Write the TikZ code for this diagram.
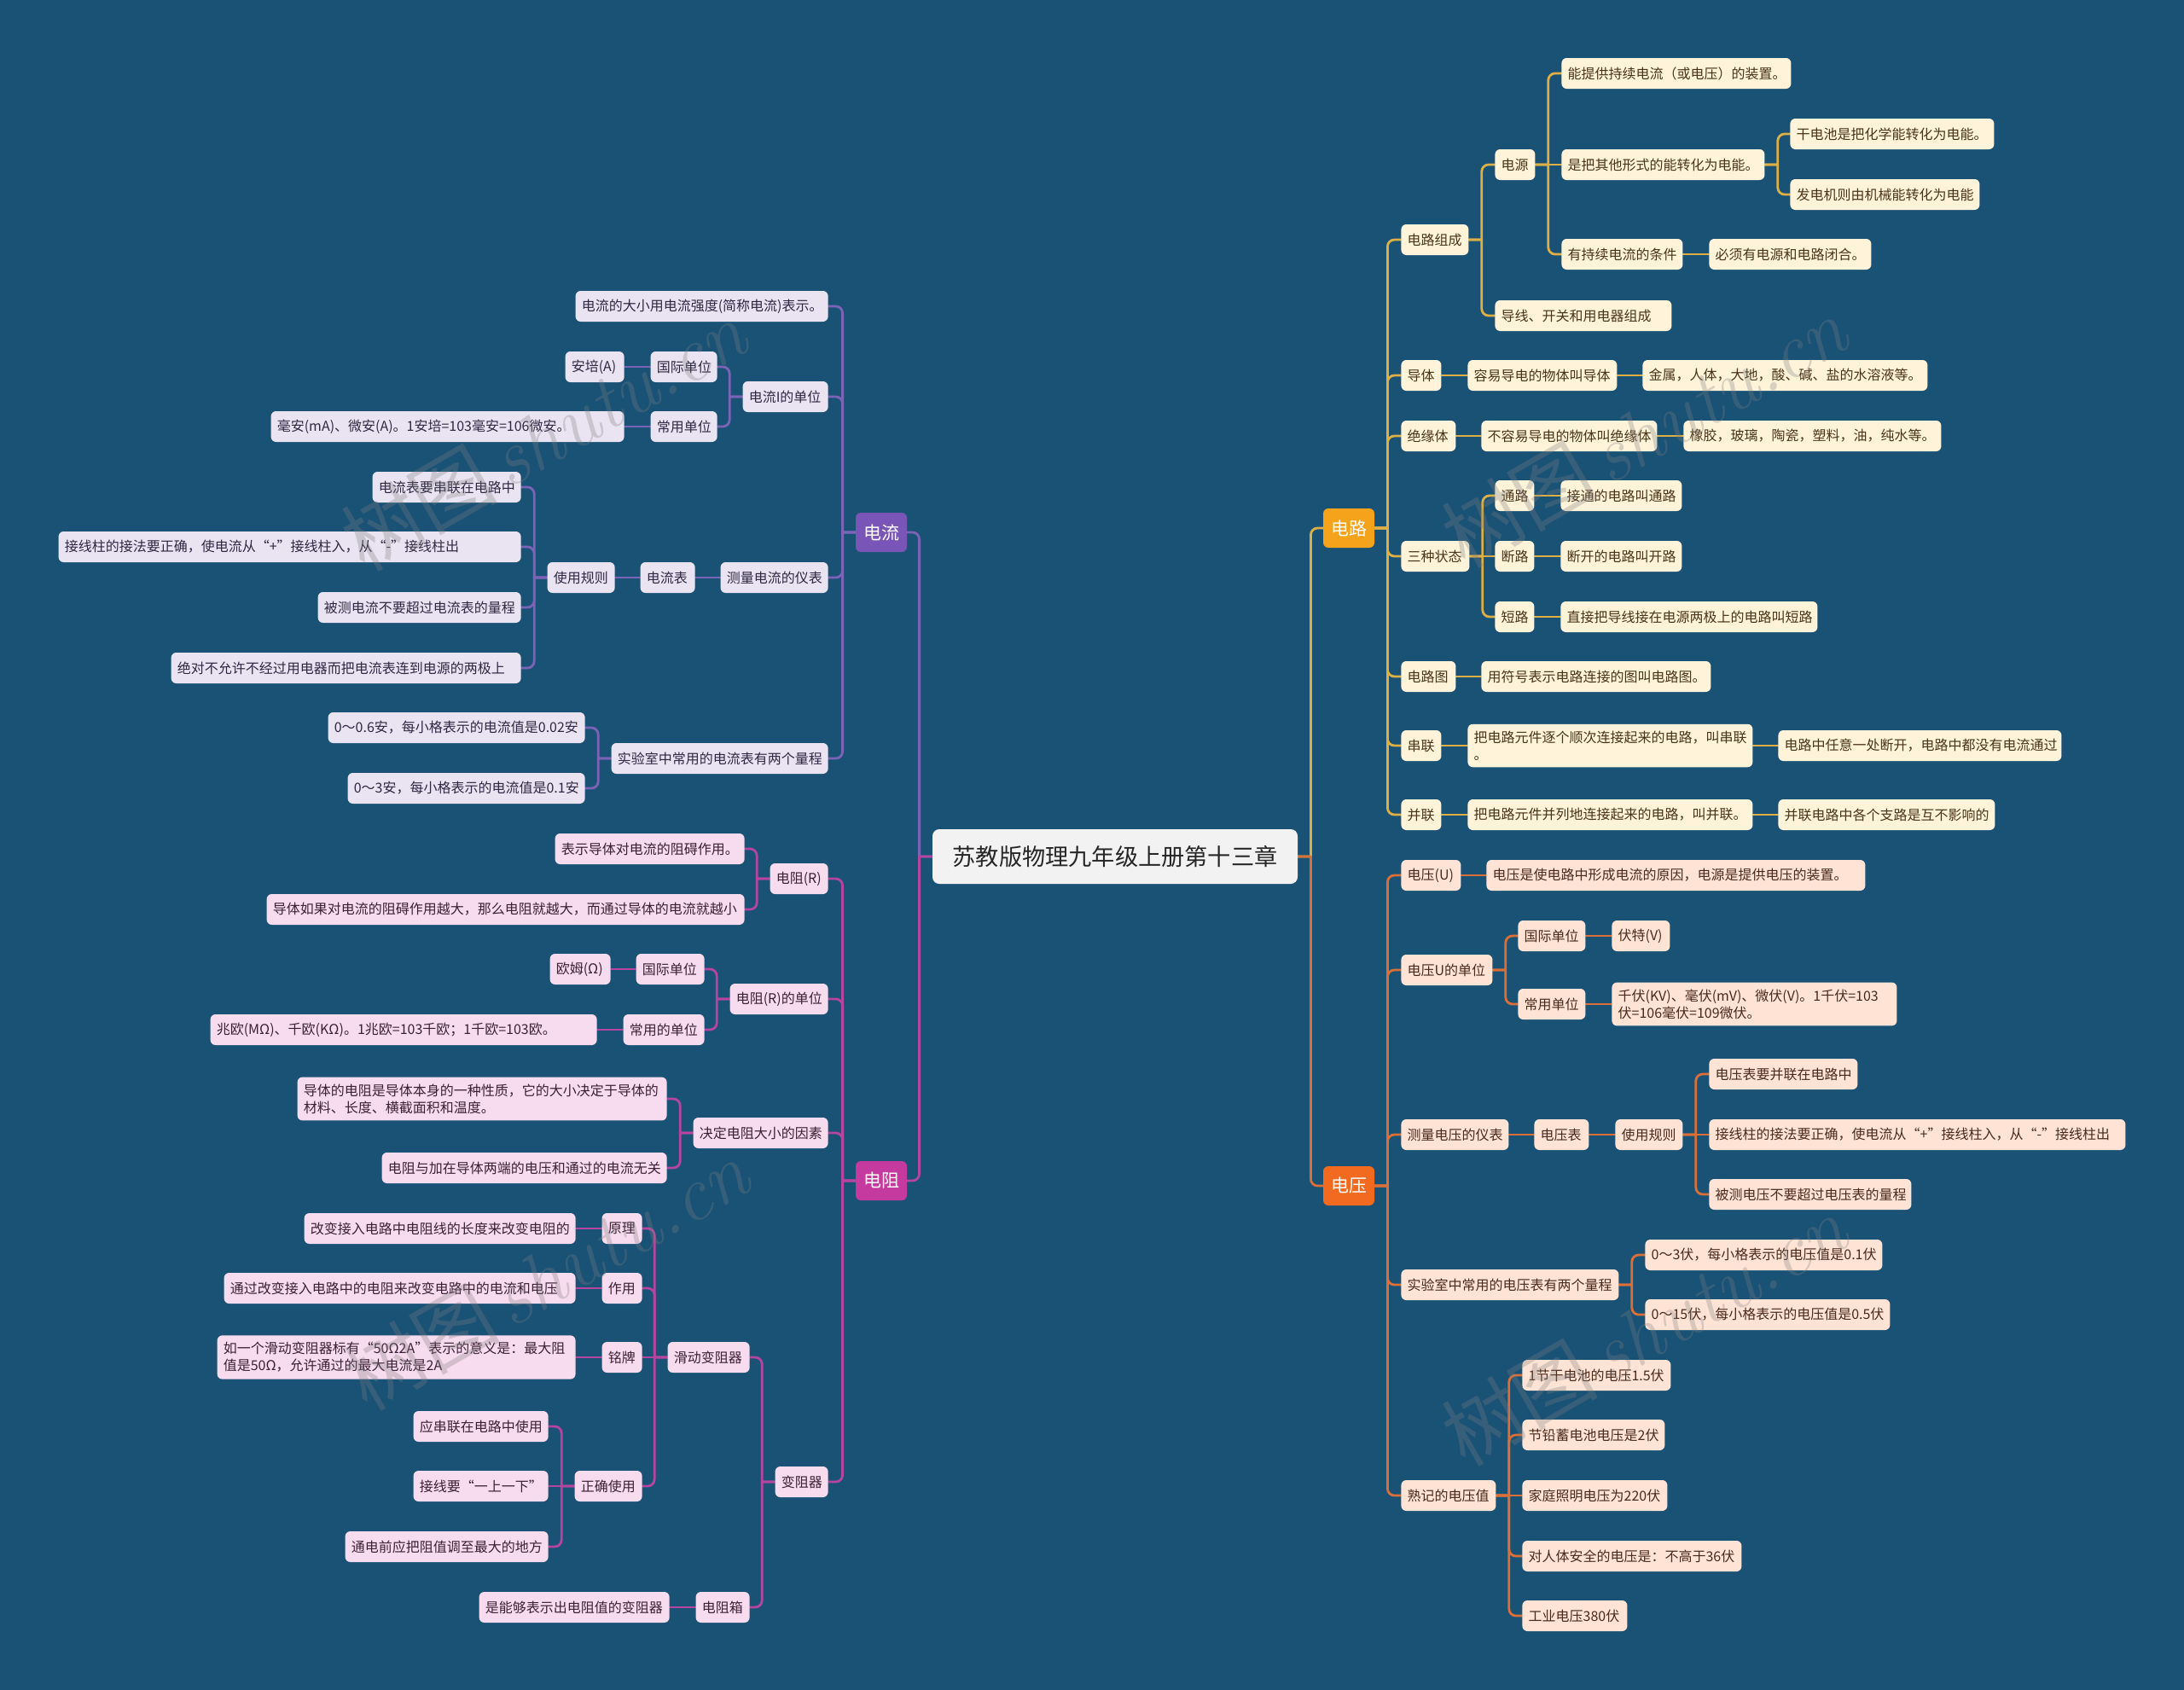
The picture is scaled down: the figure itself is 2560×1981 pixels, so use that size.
\documentclass[tikz,border=0pt]{standalone}
\usepackage{fontspec}
\newfontfamily\cjk{Noto Sans CJK SC}
\usetikzlibrary{calc}
\definecolor{bgc}{HTML}{1A5276}
\definecolor{ylmain}{HTML}{F5A31A}
\definecolor{ylline}{HTML}{DDAF45}
\definecolor{ylfill}{HTML}{FFF3DA}
\definecolor{yltext}{HTML}{4A3418}
\definecolor{ormain}{HTML}{F26A1F}
\definecolor{orline}{HTML}{DB6F38}
\definecolor{orfill}{HTML}{FFE3D5}
\definecolor{ortext}{HTML}{4A2A1A}
\definecolor{pumain}{HTML}{7A55B8}
\definecolor{puline}{HTML}{7B63B6}
\definecolor{pufill}{HTML}{E9E3F2}
\definecolor{putext}{HTML}{2E2842}
\definecolor{mamain}{HTML}{C43A9F}
\definecolor{maline}{HTML}{B5459F}
\definecolor{mafill}{HTML}{F7DBEE}
\definecolor{matext}{HTML}{3B2036}
\definecolor{rootfill}{HTML}{F2F2F2}
\pgfdeclarelayer{back}\pgfdeclarelayer{lines}
\pgfsetlayers{back,lines,main}
\tikzset{
 nbox/.style={rounded corners=3pt, inner xsep=3.6pt, inner ysep=4pt, minimum height=18pt, font=\cjk\fontsize{8}{10}\selectfont, align=left},
 yc/.style={nbox, fill=ylfill, text=yltext},
 oc/.style={nbox, fill=orfill, text=ortext},
 pc/.style={nbox, fill=pufill, text=putext},
 mc/.style={nbox, fill=mafill, text=matext},
 bmain/.style={rounded corners=3pt, minimum width=30pt, minimum height=23pt, inner sep=2pt, font=\cjk\fontsize{10.5}{12}\selectfont, text=white},
 rootbox/.style={rounded corners=4pt, fill=rootfill, text=black!85, minimum width=214pt, minimum height=32pt, font=\cjk\fontsize{13.6}{16}\selectfont},
 lnk/.style={line width=1.4pt, rounded corners=4pt, line cap=round},
 rt/.style={to path={(\tikztostart) -- ($(\tikztostart)+(15,0)$) ($(\tikztostart)+(15,0)$) |- (\tikztotarget)}},
 lt/.style={to path={(\tikztostart) -- ($(\tikztostart)+(-15,0)$) ($(\tikztostart)+(-15,0)$) |- (\tikztotarget)}},
 wmk/.style={text=gray, text opacity=0.3, font=\fontsize{46}{50}\selectfont, rotate=30},
}
\newcommand\boxR[6]{\pgfmathsetmacro\nw{(#4-#3)*0.5-7.2}\node[#1,anchor=west,text width=\nw pt] (#2) at (#3,#5) {#6};}
\newcommand\boxL[6]{\pgfmathsetmacro\nw{(#4-#3)*0.5-7.2}\node[#1,anchor=east,text width=\nw pt] (#2) at (#4,#5) {#6};}
\newcommand\linkR[3]{\foreach \cc in {#3}{\draw[lnk,#1] (#2.east) to[rt] (\cc.west);}}
\newcommand\linkL[3]{\foreach \cc in {#3}{\draw[lnk,#1] (#2.west) to[lt] (\cc.east);}}
\newcommand\flatR[3]{\draw[lnk,#1] (#2.east) -- (#3.west);}
\newcommand\flatL[3]{\draw[lnk,#1] (#2.west) -- (#3.east);}
\begin{document}
\begin{tikzpicture}[x=0.5pt,y=-0.5pt]
\useasboundingbox (0,0) rectangle (2560,1981);
\begin{pgfonlayer}{back}
\fill[bgc] (0,0) rectangle (2560,1981);
\end{pgfonlayer}

% root and main branches
\node[rootbox] (root) at (1307,1004) {苏教版物理九年级上册第十三章};
\node[bmain, fill=ylmain] (dl) at (1581,619) {电路};
\node[bmain, fill=ormain] (dy) at (1581,1390) {电压};
\node[bmain, fill=pumain] (dc) at (1033,624) {电流};
\node[bmain, fill=mamain] (dr) at (1033,1384) {电阻};

% 电路
\boxR{yc}{r1}{1642}{1721}{281}{电路组成}
\boxR{yc}{r11}{1752}{1799}{193}{电源}
\boxR{yc}{r111}{1830}{2099}{86}{能提供持续电流（或电压）的装置。}
\boxR{yc}{r112}{1830}{2068}{193}{是把其他形式的能转化为电能。}
\boxR{yc}{r1121}{2098}{2337}{157}{干电池是把化学能转化为电能。}
\boxR{yc}{r1122}{2098}{2320}{228}{发电机则由机械能转化为电能}
\boxR{yc}{r113}{1830}{1972}{298}{有持续电流的条件}
\boxR{yc}{r1131}{2003}{2193}{298}{必须有电源和电路闭合。}
\boxR{yc}{r12}{1752}{1959}{370}{导线、开关和用电器组成}
\boxR{yc}{r2}{1642}{1689}{440}{导体}
\boxR{yc}{r21}{1720}{1895}{440}{容易导电的物体叫导体}
\boxR{yc}{r211}{1925}{2259}{440}{金属，人体，大地，酸、碱、盐的水溶液等。}
\boxR{yc}{r3}{1642}{1706}{511}{绝缘体}
\boxR{yc}{r31}{1736}{1942}{511}{不容易导电的物体叫绝缘体}
\boxR{yc}{r311}{1973}{2275}{511}{橡胶，玻璃，陶瓷，塑料，油，纯水等。}
\boxR{yc}{r4}{1642}{1722}{652}{三种状态}
\boxR{yc}{r41}{1752}{1798}{581}{通路}
\boxR{yc}{r411}{1829}{1971}{581}{接通的电路叫通路}
\boxR{yc}{r42}{1752}{1798}{652}{断路}
\boxR{yc}{r421}{1829}{1971}{652}{断开的电路叫开路}
\boxR{yc}{r43}{1752}{1798}{723}{短路}
\boxR{yc}{r431}{1829}{2130}{723}{直接把导线接在电源两极上的电路叫短路}
\boxR{yc}{r5}{1642}{1706}{793}{电路图}
\boxR{yc}{r51}{1736}{2005}{793}{用符号表示电路连接的图叫电路图。}
\boxR{yc}{r6}{1642}{1689}{874}{串联}
\boxR{yc}{r61}{1720}{2054}{874}{把电路元件逐个顺次连接起来的电路，叫串联\\。}
\boxR{yc}{r611}{2084}{2416}{874}{电路中任意一处断开，电路中都没有电流通过}
\boxR{yc}{r7}{1642}{1689}{955}{并联}
\boxR{yc}{r71}{1720}{2054}{955}{把电路元件并列地连接起来的电路，叫并联。}
\boxR{yc}{r711}{2084}{2338}{955}{并联电路中各个支路是互不影响的}

% 电压
\boxR{oc}{v1}{1642}{1712}{1026}{电压(U)}
\boxR{oc}{v11}{1742}{2186}{1026}{电压是使电路中形成电流的原因，电源是提供电压的装置。}
\boxR{oc}{v2}{1642}{1749}{1137}{电压U的单位}
\boxR{oc}{v21}{1779}{1858}{1097}{国际单位}
\boxR{oc}{v211}{1889}{1957}{1097}{伏特(V)}
\boxR{oc}{v22}{1779}{1858}{1177}{常用单位}
\boxR{oc}{v221}{1889}{2223}{1177}{千伏(KV)、毫伏(mV)、微伏(V)。1千伏=103\\伏=106毫伏=109微伏。}
\boxR{oc}{v3}{1642}{1768}{1330}{测量电压的仪表}
\boxR{oc}{v31}{1798}{1862}{1330}{电压表}
\boxR{oc}{v32}{1893}{1972}{1330}{使用规则}
\boxR{oc}{v321}{2003}{2177}{1259}{电压表要并联在电路中}
\boxR{oc}{v322}{2003}{2491}{1330}{接线柱的接法要正确，使电流从“+”接线柱入，从“-”接线柱出}
\boxR{oc}{v323}{2003}{2240}{1400}{被测电压不要超过电压表的量程}
\boxR{oc}{v4}{1642}{1897}{1506}{实验室中常用的电压表有两个量程}
\boxR{oc}{v41}{1928}{2206}{1471}{0～3伏，每小格表示的电压值是0.1伏}
\boxR{oc}{v42}{1928}{2215}{1541}{0～15伏，每小格表示的电压值是0.5伏}
\boxR{oc}{v5}{1642}{1753}{1753}{熟记的电压值}
\boxR{oc}{v51}{1784}{1958}{1612}{1节干电池的电压1.5伏}
\boxR{oc}{v52}{1784}{1951}{1682}{节铅蓄电池电压是2伏}
\boxR{oc}{v53}{1784}{1954}{1753}{家庭照明电压为220伏}
\boxR{oc}{v54}{1784}{2041}{1824}{对人体安全的电压是：不高于36伏}
\boxR{oc}{v55}{1784}{1907}{1894}{工业电压380伏}

% 电流
\boxL{pc}{l1}{675}{971}{359}{电流的大小用电流强度(简称电流)表示。}
\boxL{pc}{l2}{871}{971}{465}{电流I的单位}
\boxL{pc}{l21}{763}{841}{430}{国际单位}
\boxL{pc}{l211}{663}{732}{430}{安培(A)}
\boxL{pc}{l22}{763}{841}{500}{常用单位}
\boxL{pc}{l221}{318}{732}{500}{毫安(mA)、微安(A)。1安培=103毫安=106微安。}
\boxL{pc}{l3}{845}{971}{677}{测量电流的仪表}
\boxL{pc}{l31}{751}{815}{677}{电流表}
\boxL{pc}{l32}{642}{721}{677}{使用规则}
\boxL{pc}{l321}{437}{611}{571}{电流表要串联在电路中}
\boxL{pc}{l322}{69}{611}{641}{接线柱的接法要正确，使电流从“+”接线柱入，从“-”接线柱出}
\boxL{pc}{l323}{373}{611}{712}{被测电流不要超过电流表的量程}
\boxL{pc}{l324}{201}{611}{783}{绝对不允许不经过用电器而把电流表连到电源的两极上}
\boxL{pc}{l4}{717}{971}{889}{实验室中常用的电流表有两个量程}
\boxL{pc}{l41}{385}{686}{853}{0～0.6安，每小格表示的电流值是0.02安}
\boxL{pc}{l42}{408}{686}{924}{0～3安，每小格表示的电流值是0.1安}

% 电阻
\boxL{mc}{m1}{903}{971}{1030}{电阻(R)}
\boxL{mc}{m11}{651}{873}{995}{表示导体对电流的阻碍作用。}
\boxL{mc}{m12}{313}{873}{1066}{导体如果对电流的阻碍作用越大，那么电阻就越大，而通过导体的电流就越小}
\boxL{mc}{m2}{856}{971}{1171}{电阻(R)的单位}
\boxL{mc}{m21}{746}{826}{1136}{国际单位}
\boxL{mc}{m211}{645}{716}{1136}{欧姆(Ω)}
\boxL{mc}{m22}{731}{826}{1207}{常用的单位}
\boxL{mc}{m221}{247}{700}{1207}{兆欧(MΩ)、千欧(KΩ)。1兆欧=103千欧；1千欧=103欧。}
\boxL{mc}{m3}{813}{971}{1328}{决定电阻大小的因素}
\boxL{mc}{m31}{349}{782}{1288}{导体的电阻是导体本身的一种性质，它的大小决定于导体的\\材料、长度、横截面积和温度。}
\boxL{mc}{m32}{448}{782}{1369}{电阻与加在导体两端的电压和通过的电流无关}
\boxL{mc}{m4}{909}{971}{1737}{变阻器}
\boxL{mc}{m41}{783}{879}{1591}{滑动变阻器}
\boxL{mc}{m411}{706}{753}{1440}{原理}
\boxL{mc}{m4111}{357}{675}{1440}{改变接入电路中电阻线的长度来改变电阻的}
\boxL{mc}{m412}{706}{753}{1510}{作用}
\boxL{mc}{m4121}{263}{675}{1510}{通过改变接入电路中的电阻来改变电路中的电流和电压}
\boxL{mc}{m413}{706}{753}{1591}{铭牌}
\boxL{mc}{m4131}{255}{675}{1591}{如一个滑动变阻器标有“50Ω2A”表示的意义是：最大阻\\值是50Ω，允许通过的最大电流是2A}
\boxL{mc}{m414}{674}{753}{1742}{正确使用}
\boxL{mc}{m4141}{485}{643}{1672}{应串联在电路中使用}
\boxL{mc}{m4142}{485}{643}{1742}{接线要“一上一下”}
\boxL{mc}{m4143}{405}{643}{1813}{通电前应把阻值调至最大的地方}
\boxL{mc}{m42}{816}{879}{1884}{电阻箱}
\boxL{mc}{m421}{562}{785}{1884}{是能够表示出电阻值的变阻器}

\begin{pgfonlayer}{lines}
\linkR{ylline}{root}{dl}
\linkR{orline}{root}{dy}
\linkL{puline}{root}{dc}
\linkL{maline}{root}{dr}
% 电路
\linkR{ylline}{dl}{r1,r2,r3,r4,r5,r6,r7}
\linkR{ylline}{r1}{r11,r12}
\linkR{ylline}{r11}{r111,r113}
\flatR{ylline}{r11}{r112}
\linkR{ylline}{r112}{r1121,r1122}
\flatR{ylline}{r113}{r1131}
\flatR{ylline}{r2}{r21}
\flatR{ylline}{r21}{r211}
\flatR{ylline}{r3}{r31}
\flatR{ylline}{r31}{r311}
\linkR{ylline}{r4}{r41,r43}
\flatR{ylline}{r4}{r42}
\flatR{ylline}{r41}{r411}
\flatR{ylline}{r42}{r421}
\flatR{ylline}{r43}{r431}
\flatR{ylline}{r5}{r51}
\flatR{ylline}{r6}{r61}
\flatR{ylline}{r61}{r611}
\flatR{ylline}{r7}{r71}
\flatR{ylline}{r71}{r711}
% 电压
\linkR{orline}{dy}{v1,v2,v3,v4,v5}
\flatR{orline}{v1}{v11}
\linkR{orline}{v2}{v21,v22}
\flatR{orline}{v21}{v211}
\flatR{orline}{v22}{v221}
\flatR{orline}{v3}{v31}
\flatR{orline}{v31}{v32}
\linkR{orline}{v32}{v321,v323}
\flatR{orline}{v32}{v322}
\linkR{orline}{v4}{v41,v42}
\linkR{orline}{v5}{v51,v52,v54,v55}
\flatR{orline}{v5}{v53}
% 电流
\linkL{puline}{dc}{l1,l2,l3,l4}
\linkL{puline}{l2}{l21,l22}
\flatL{puline}{l21}{l211}
\flatL{puline}{l22}{l221}
\flatL{puline}{l3}{l31}
\flatL{puline}{l31}{l32}
\linkL{puline}{l32}{l321,l322,l323,l324}
\linkL{puline}{l4}{l41,l42}
% 电阻
\linkL{maline}{dr}{m1,m2,m3,m4}
\linkL{maline}{m1}{m11,m12}
\linkL{maline}{m2}{m21,m22}
\flatL{maline}{m21}{m211}
\flatL{maline}{m22}{m221}
\linkL{maline}{m3}{m31,m32}
\linkL{maline}{m4}{m41,m42}
\linkL{maline}{m41}{m411,m412,m414}
\flatL{maline}{m41}{m413}
\flatL{maline}{m411}{m4111}
\flatL{maline}{m412}{m4121}
\flatL{maline}{m413}{m4131}
\linkL{maline}{m414}{m4141,m4143}
\flatL{maline}{m414}{m4142}
\flatL{maline}{m42}{m421}
\end{pgfonlayer}

% watermarks
\node[wmk] (wm1) at (637,510) {{\cjk 树图}\hspace{6pt}{\itshape shutu.cn}};
\node[wmk] (wm2) at (640,1494) {{\cjk 树图}\hspace{6pt}{\itshape shutu.cn}};
\node[wmk] (wm3) at (1927,506) {{\cjk 树图}\hspace{6pt}{\itshape shutu.cn}};
\node[wmk] (wm4) at (1927,1559) {{\cjk 树图}\hspace{6pt}{\itshape shutu.cn}};
\end{tikzpicture}
\end{document}
